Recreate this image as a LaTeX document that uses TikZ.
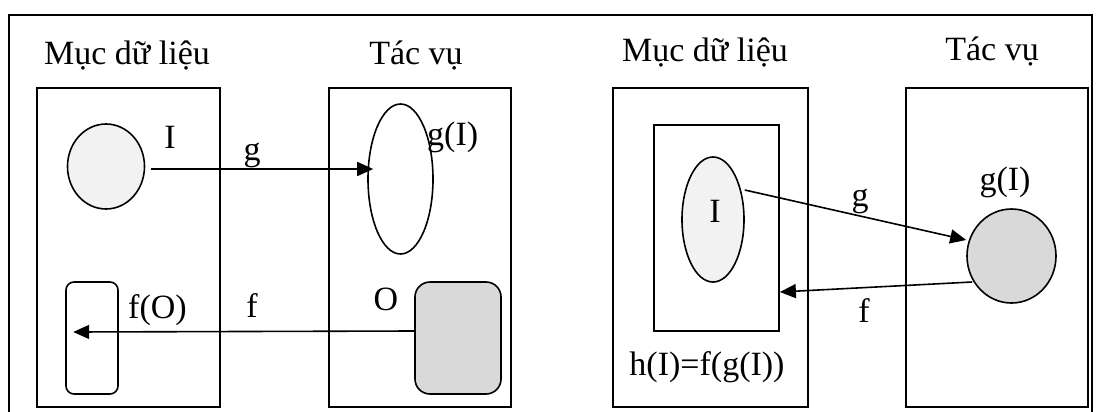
\documentclass[tikz,border=0pt]{standalone}
\usepackage{fontspec}
\setmainfont{Liberation Serif}
\usepackage{xcolor}
\usetikzlibrary{
	arrows.meta,
	calc,
	shapes.geometric
}
\definecolor{itemfill}{HTML}{F2F2F2}
\definecolor{taskfill}{HTML}{D9D9D9}

\begin{document}
\begin{tikzpicture}[x=1pt, y=-1pt,
		box/.style={draw, line width=1.8pt, rectangle, inner sep=0pt},
		blob/.style={draw, line width=1.6pt, ellipse, inner sep=0pt},
		rbox/.style={draw, line width=1.6pt, rectangle, rounded corners=#1, inner sep=0pt},
		lbl/.style={anchor=base, inner sep=0pt, font=\fontsize{34}{40}\selectfont},
		arr/.style={line width=1.6pt, -{Triangle[length=16pt,width=14pt]}}]
		\useasboundingbox (0,0) rectangle (1097,412);
		\draw[line width=2pt] (9,412) -- (9,15) -- (1092,15) -- (1092,412);
		% left panel
		\node[lbl] (titleDL) at (127,65) {Mục dữ liệu};
		\node[lbl] (titleTL) at (416,65) {Tác vụ};
		\node[box, minimum width=183, minimum height=319] (dataL) at (128.5,247.5) {};
		\node[box, minimum width=182, minimum height=319] (taskL) at (420,247.5) {};
		\node[blob, fill=itemfill, minimum width=77, minimum height=85] (itemI) at (106,166.5) {};
		\node[blob, minimum width=65, minimum height=150] (imgG) at (400.5,179) {};
		\node[rbox=8pt, minimum width=52, minimum height=112] (resF) at (92,338) {};
		\node[rbox=15pt, fill=taskfill, minimum width=86, minimum height=112] (outO) at (458,338) {};
		\node[lbl] (labI) at (170,148) {I};
		\node[lbl] (labg) at (252,160) {g};
		\node[lbl, anchor=base west] (labgI) at (427,145) {g(I)};
		\node[lbl, anchor=base west] (labfO) at (128,318) {f(O)};
		\node[lbl] (labf) at (252,317) {f};
		\node[lbl] (labO) at (386,310) {O};
		\draw[arr] ($(itemI.east)+(6,2.5)$) -- ($(imgG.west)+(6,-10)$);
		\draw[arr] ($(outO.west)+(0,-7)$) -- ($(resF.west)+(8,-6)$);
		% right panel
		\node[lbl] (titleDR) at (705,62) {Mục dữ liệu};
		\node[lbl] (titleTR) at (992,60) {Tác vụ};
		\node[box, minimum width=195, minimum height=319] (dataR) at (710.5,247.5) {};
		\node[box, minimum width=125, minimum height=206] (hbox) at (716.5,228) {};
		\node[box, minimum width=182, minimum height=319] (taskR) at (997,247.5) {};
		\node[blob, fill=itemfill, minimum width=62, minimum height=125] (itemI2) at (713,219.5) {};
		\node[blob, fill=taskfill, minimum width=89, minimum height=94] (imgG2) at (1011.5,256) {};
		\node[lbl] (labI2) at (715,222) {I};
		\node[lbl] (labg2) at (860,206) {g};
		\node[lbl] (labgI2) at (1005,190) {g(I)};
		\node[lbl] (labf2) at (864,322) {f};
		\node[lbl] (labh) at (707,375) {h(I)=f(g(I))};
		\draw[arr] ($(itemI2.east)+(0,-29.5)$) -- ($(imgG2.west)+(0,-16)$);
		\draw[arr] ($(imgG2.west)+(6,26)$) -- ($(hbox.east)+(0,64)$);
	\end{tikzpicture}
\end{document}
